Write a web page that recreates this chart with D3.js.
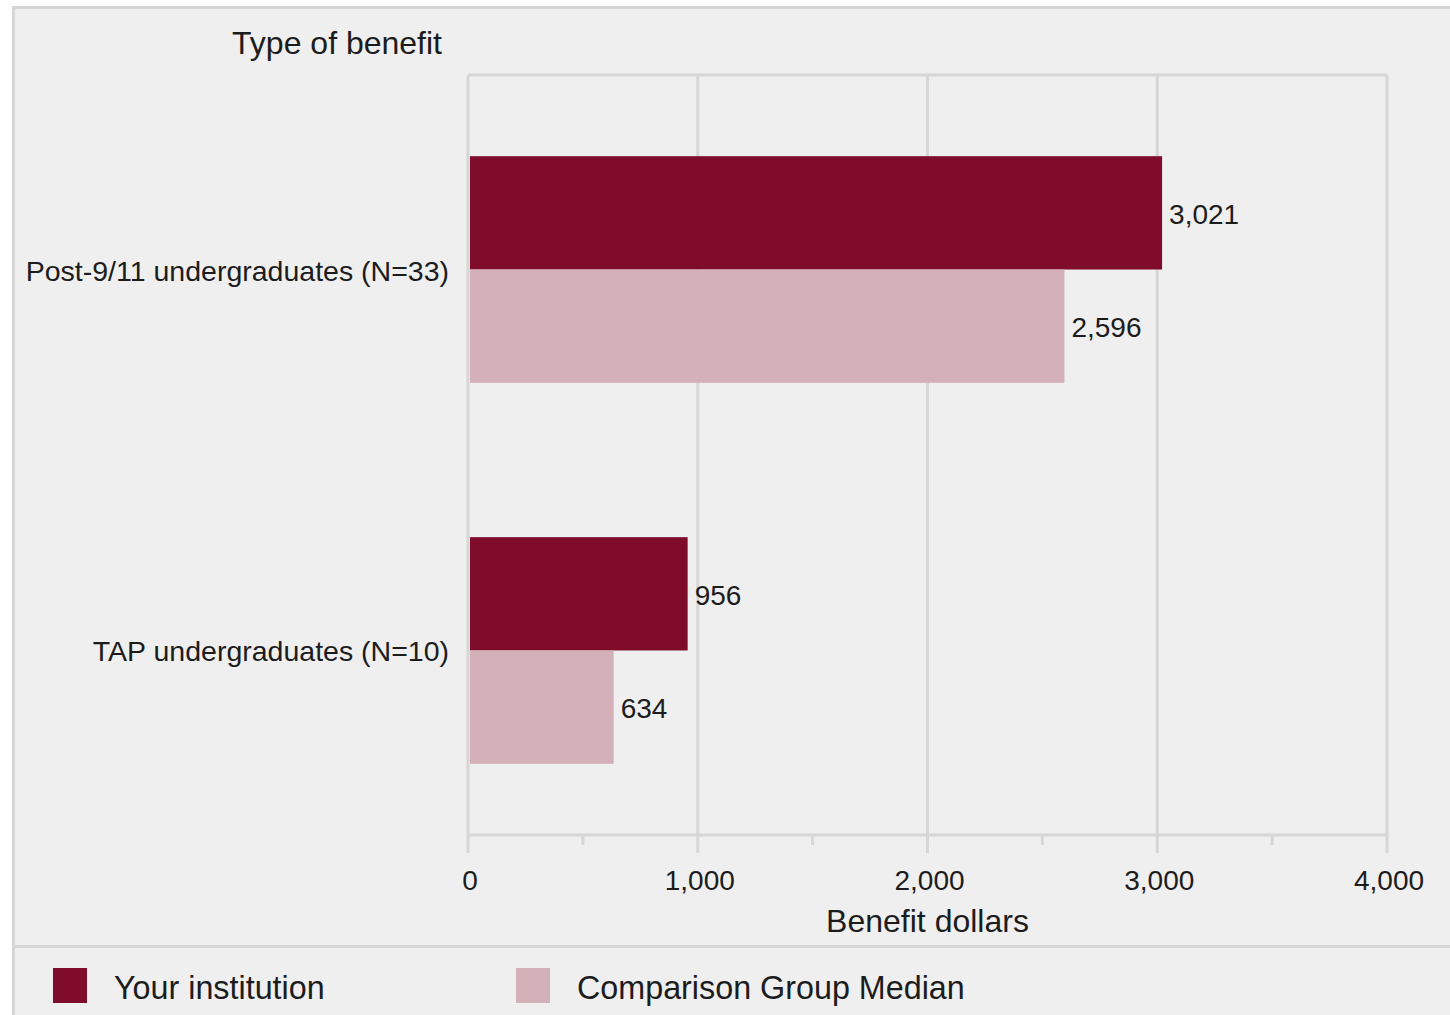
<!DOCTYPE html>
<html>
<head>
<meta charset="utf-8">
<script src="https://cdn.jsdelivr.net/npm/d3@7"></script>
<style>
  html, body { margin: 0; padding: 0; background: #ffffff; }
  svg { display: block; font-family: "Liberation Sans", Arial, sans-serif; }
</style>
</head>
<body>
<svg id="chart" width="1450" height="1015"></svg>
<script>
// Benefit dollars by benefit type
const categories = ["Post-9/11 undergraduates (N=33)", "TAP undergraduates (N=10)"];
const seriesNames = ["Your institution", "Comparison Group Median"];
const yourInstitution = [3021, 956];
const comparisonMedian = [2596, 634];
const xTicks = [0, 1000, 2000, 3000, 4000];
const xMinorTicks = [500, 1500, 2500, 3500];

const colors = ["#800c2c", "#d4b1b8"];
const gridColor = "#d6d6d6";
const textColor = "#1c1c1c";

const svg = d3.select("#chart");
const W = 1450, H = 1015;

// panel background with border
svg.append("rect").attr("x", 0).attr("y", 0).attr("width", W).attr("height", H).attr("fill", "#ffffff");
svg.append("rect")
  .attr("x", 13.5).attr("y", 7.5).attr("width", W + 10).attr("height", H + 10)
  .attr("fill", "#efefef").attr("stroke", gridColor).attr("stroke-width", 3);

// legend separator
svg.append("line")
  .attr("x1", 13).attr("x2", W).attr("y1", 946.5).attr("y2", 946.5)
  .attr("stroke", gridColor).attr("stroke-width", 3);

const plot = { left: 468, right: 1387, top: 75, bottom: 835 };

const x = d3.scaleLinear().domain([0, 4000]).range([plot.left, plot.right]);
const y = d3.scaleBand().domain(categories).range([plot.top + 5, plot.bottom + 5])
  .paddingInner(0.405).paddingOuter(0.2);
const ySub = d3.scaleBand().domain(seriesNames).range([0, y.bandwidth()]);

const data = categories.map((c, i) => ({
  category: c,
  values: [
    { series: seriesNames[0], value: yourInstitution[i], color: colors[0] },
    { series: seriesNames[1], value: comparisonMedian[i], color: colors[1] }
  ]
}));

// gridlines and frame
const g = svg.append("g");
g.selectAll("line.grid").data(xTicks.slice(1)).join("line")
  .attr("class", "grid")
  .attr("x1", d => x(d)).attr("x2", d => x(d))
  .attr("y1", plot.top).attr("y2", plot.bottom)
  .attr("stroke", gridColor).attr("stroke-width", 3);
g.append("line")
  .attr("x1", plot.left).attr("x2", plot.right)
  .attr("y1", plot.top).attr("y2", plot.top)
  .attr("stroke", gridColor).attr("stroke-width", 3);

// x axis line, major and minor ticks
g.append("line")
  .attr("x1", plot.left).attr("x2", plot.right)
  .attr("y1", plot.bottom).attr("y2", plot.bottom)
  .attr("stroke", gridColor).attr("stroke-width", 3);
g.append("line")
  .attr("x1", plot.left).attr("x2", plot.left)
  .attr("y1", plot.top).attr("y2", plot.bottom)
  .attr("stroke", gridColor).attr("stroke-width", 3);
g.selectAll("line.major").data(xTicks).join("line")
  .attr("class", "major")
  .attr("x1", d => x(d)).attr("x2", d => x(d))
  .attr("y1", plot.bottom).attr("y2", plot.bottom + 18)
  .attr("stroke", gridColor).attr("stroke-width", 3);
g.selectAll("line.minor").data(xMinorTicks).join("line")
  .attr("class", "minor")
  .attr("x1", d => x(d)).attr("x2", d => x(d))
  .attr("y1", plot.bottom).attr("y2", plot.bottom + 10)
  .attr("stroke", gridColor).attr("stroke-width", 3);

// tick labels
const fmt = d3.format(",");
g.selectAll("text.tick").data(xTicks).join("text")
  .attr("class", "tick")
  .attr("x", d => x(d) + 2).attr("y", 890)
  .attr("text-anchor", "middle")
  .attr("font-size", 28).attr("fill", textColor)
  .text(d => fmt(d));

// axis titles
svg.append("text")
  .attr("x", (plot.left + plot.right) / 2).attr("y", 932)
  .attr("text-anchor", "middle").attr("font-size", 32).attr("fill", textColor)
  .text("Benefit dollars");
svg.append("text")
  .attr("x", 442).attr("y", 54)
  .attr("text-anchor", "end").attr("font-size", 32).attr("fill", textColor)
  .text("Type of benefit");

// bars
const groups = svg.selectAll("g.cat").data(data).join("g")
  .attr("class", "cat")
  .attr("transform", d => `translate(0,${y(d.category)})`);

groups.selectAll("rect").data(d => d.values).join("rect")
  .attr("x", x(0) + 2)
  .attr("y", d => ySub(d.series))
  .attr("width", d => x(d.value) - x(0) - 2)
  .attr("height", ySub.bandwidth())
  .attr("fill", d => d.color);

groups.selectAll("text.val").data(d => d.values).join("text")
  .attr("class", "val")
  .attr("x", d => x(d.value) + 7)
  .attr("y", d => ySub(d.series) + ySub.bandwidth() / 2 + 11)
  .attr("font-size", 28).attr("fill", textColor)
  .text(d => fmt(d.value));

// category labels
svg.selectAll("text.cat").data(categories).join("text")
  .attr("class", "cat")
  .attr("x", 449)
  .attr("y", d => y(d) + y.bandwidth() / 2 + 11)
  .attr("text-anchor", "end").attr("font-size", 28.5).attr("fill", textColor)
  .text(d => d);

// legend
const legendX = [53, 516];
const legend = svg.selectAll("g.legend").data(seriesNames).join("g")
  .attr("class", "legend")
  .attr("transform", (d, i) => `translate(${legendX[i]},968)`);
legend.append("rect")
  .attr("width", 34).attr("height", 35)
  .attr("fill", (d, i) => colors[i]);
legend.append("text")
  .attr("x", 61).attr("y", 31)
  .attr("font-size", 32.3).attr("fill", textColor)
  .text(d => d);
</script>
</body>
</html>
